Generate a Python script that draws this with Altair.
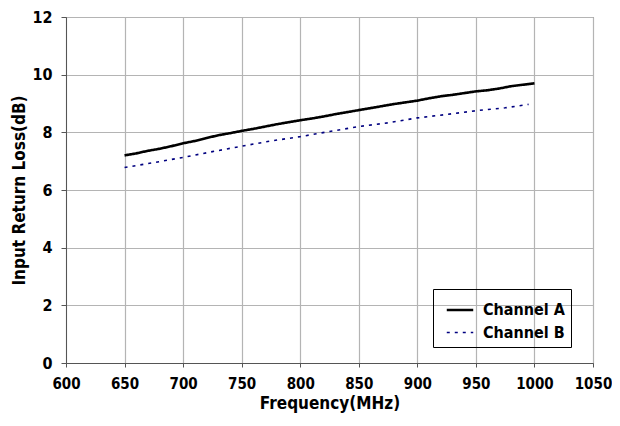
import altair as alt
import pandas as pd

freq_a = [650, 660, 670, 680, 690, 700, 710, 720, 730, 740, 750, 760, 770, 780, 790,
          800, 810, 820, 830, 840, 850, 860, 870, 880, 890, 900, 910, 920, 930, 940,
          950, 960, 970, 980, 990, 1000]
loss_a = [7.2, 7.27, 7.36, 7.43, 7.52, 7.62, 7.7, 7.8, 7.9, 7.97, 8.05, 8.12, 8.2, 8.28, 8.35,
          8.42, 8.48, 8.55, 8.63, 8.7, 8.77, 8.84, 8.91, 8.98, 9.04, 9.1, 9.18, 9.25, 9.3, 9.36,
          9.42, 9.46, 9.52, 9.6, 9.65, 9.7]
freq_b = [650, 675, 700, 725, 750, 775, 800, 825, 850, 875, 900, 925, 950, 975, 995]
loss_b = [6.78, 6.95, 7.13, 7.33, 7.52, 7.7, 7.85, 8.03, 8.2, 8.33, 8.5, 8.62, 8.75, 8.85, 8.97]

df = pd.concat([
    pd.DataFrame({"freq": freq_a, "loss": loss_a, "series": "Channel A"}),
    pd.DataFrame({"freq": freq_b, "loss": loss_b, "series": "Channel B"}),
])

font = "DejaVu Sans Condensed"

chart = alt.Chart(df).mark_line().encode(
    x=alt.X("freq:Q", scale=alt.Scale(domain=[600, 1050], nice=False),
            axis=alt.Axis(title="Frequency(MHz)", values=list(range(600, 1051, 50)), format="d",
                          labelOverlap=False, labelBound=False, labelFlush=False,
                          tickSize=4, labelPadding=9, labelFontSize=15)),
    y=alt.Y("loss:Q", scale=alt.Scale(domain=[0, 12], nice=False),
            axis=alt.Axis(title="Input Return Loss(dB)", values=list(range(0, 13, 2)), format="d",
                          labelOverlap=False, labelFlush=False, tickSize=5, labelPadding=9)),
    color=alt.Color("series:N", scale=alt.Scale(domain=["Channel A", "Channel B"], range=["#000000", "#000080"]),
                    legend=alt.Legend(title=None, orient="none", legendX=367, legendY=272,
                                      strokeColor="#000000", padding=6, symbolType="stroke",
                                      symbolSize=700, symbolOffset=6, labelFont=font, labelFontSize=16,
                                      labelFontWeight="bold", labelColor="#000000",
                                      symbolStrokeWidth=2.2, rowPadding=0, labelOffset=8)),
    strokeDash=alt.StrokeDash("series:N", scale=alt.Scale(domain=["Channel A", "Channel B"], range=[[1, 0], [3, 5]]), legend=None),
    strokeWidth=alt.StrokeWidth("series:N", scale=alt.Scale(domain=["Channel A", "Channel B"], range=[2.6, 1.6]), legend=None),
).properties(
    width=527, height=346,
    autosize=alt.AutoSizeParams(type="none"),
    padding={"left": 58, "top": 9, "right": 19, "bottom": 50},
).configure_view(
    stroke="#666666", strokeWidth=1
).configure_axis(
    labelFont=font, labelFontSize=16, labelFontWeight="bold", labelColor="#000000",
    titleFont=font, titleFontSize=17, titleFontWeight="bold", titleColor="#000000",
    gridColor="#b4b4b4", gridWidth=1.2, domainColor="#555555", tickColor="#555555",
).configure_axisY(titlePadding=3).configure_axisX(titlePadding=4)

chart.save("out.html", embed_options={"renderer": "svg", "actions": False})
